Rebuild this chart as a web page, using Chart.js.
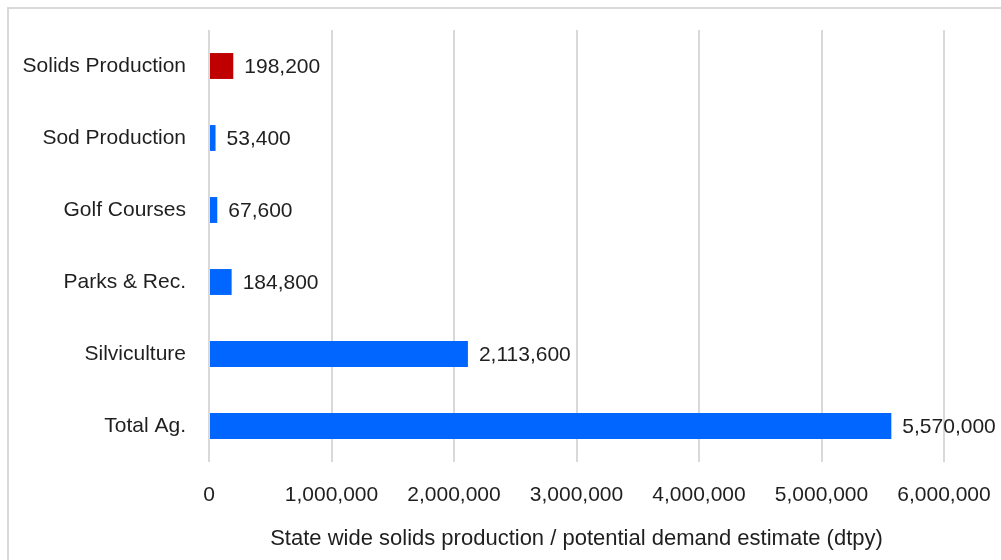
<!DOCTYPE html>
<html>
<head>
<meta charset="utf-8">
<script src="https://cdn.jsdelivr.net/npm/chart.js@4"></script>
<style>
  html, body { margin: 0; padding: 0; background: #fff; }
  #wrap { width: 1001px; height: 560px; position: relative; }
</style>
</head>
<body>
<div id="wrap"><canvas id="myChart" width="1001" height="560"></canvas></div>
<script>
'use strict';
const categories = ['Solids Production', 'Sod Production', 'Golf Courses', 'Parks & Rec.', 'Silviculture', 'Total Ag.'];
const values = [198200, 53400, 67600, 184800, 2113600, 5570000];
const barColors = ['#C00000', '#0066FF', '#0066FF', '#0066FF', '#0066FF', '#0066FF'];
const xTicks = [0, 1000000, 2000000, 3000000, 4000000, 5000000, 6000000];
const axisTitle = 'State wide solids production / potential demand estimate (dtpy)';

const fontFamily = '"Liberation Sans", Arial, sans-serif';
const textColor = '#1f1f1f';

function fmt(v) {
  return v.toLocaleString('en-US');
}

// light frame along the top and left edges
const framePlugin = {
  id: 'frame',
  beforeDraw(chart) {
    const ctx = chart.ctx;
    ctx.save();
    ctx.fillStyle = '#d9d9d9';
    ctx.fillRect(7, 7, chart.width - 7, 2);
    ctx.fillRect(7, 7, 2, chart.height - 7);
    ctx.restore();
  }
};

// value labels at the end of each bar
const valueLabels = {
  id: 'valueLabels',
  afterDatasetsDraw(chart) {
    const ctx = chart.ctx;
    const meta = chart.getDatasetMeta(0);
    ctx.save();
    ctx.font = '21px ' + fontFamily;
    ctx.fillStyle = textColor;
    ctx.textAlign = 'left';
    ctx.textBaseline = 'middle';
    meta.data.forEach((bar, i) => {
      ctx.fillText(fmt(values[i]), bar.x + 11, bar.y + 1);
    });
    ctx.restore();
  }
};

let context = document.getElementById('myChart').getContext('2d');
let chart = new Chart(context, {
  type: 'bar',
  data: {
    labels: categories,
    datasets: [{
      data: values,
      backgroundColor: barColors,
      borderWidth: 0,
      categoryPercentage: 1,
      barPercentage: 0.36
    }]
  },
  options: {
    indexAxis: 'y',
    responsive: false,
    animation: false,
    layout: { padding: { top: 30, right: 57, left: 0, bottom: 0 } },
    plugins: {
      legend: { display: false },
      tooltip: { enabled: false }
    },
    scales: {
      x: {
        min: 0,
        max: 6000000,
        afterBuildTicks(axis) {
          axis.ticks = xTicks.map(v => ({ value: v }));
        },
        afterFit(axis) {
          axis.height = 98;
          axis.paddingLeft = 0;
          axis.paddingRight = 0;
        },
        grid: { color: '#d9d9d9', lineWidth: 2, drawTicks: false },
        border: { display: false },
        ticks: {
          color: textColor,
          font: { family: fontFamily, size: 21 },
          padding: 21,
          maxRotation: 0,
          autoSkip: false,
          callback: v => fmt(v)
        },
        title: {
          display: true,
          text: axisTitle,
          color: textColor,
          font: { family: fontFamily, size: 22 },
          padding: { top: 19, bottom: 8 }
        }
      },
      y: {
        grid: { display: false, drawTicks: false },
        border: { display: false },
        afterFit(axis) {
          axis.width = 209;
          axis.paddingTop = 0;
          axis.paddingBottom = 0;
        },
        ticks: {
          color: textColor,
          font: { family: fontFamily, size: 21 },
          padding: 23
        }
      }
    }
  },
  plugins: [framePlugin, valueLabels]
});
</script>
</body>
</html>
